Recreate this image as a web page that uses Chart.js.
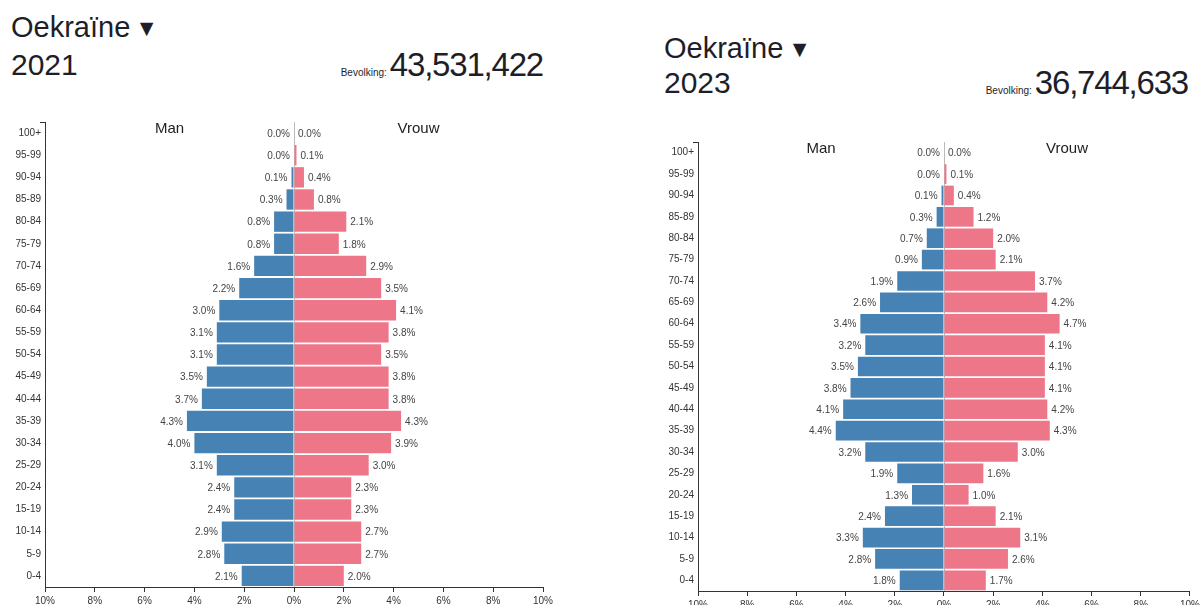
<!DOCTYPE html>
<html>
<head>
<meta charset="utf-8">
<script src="https://cdn.jsdelivr.net/npm/chart.js@4/dist/chart.umd.min.js"></script>
<style>
  html, body { margin: 0; padding: 0; background: #fff; }
  body { width: 1203px; height: 605px; position: relative; overflow: hidden;
         font-family: "Liberation Sans", Arial, sans-serif; color: #1e1e28; }
  .t { position: absolute; white-space: nowrap; line-height: 30px; }
  .country { font-size: 29px; }
  .country .tri { font-size: 23px; vertical-align: 1px; margin-left: 5px; }
  .year { font-size: 30px; }
  .pop { text-align: right; font-size: 33px; letter-spacing: -1.2px; line-height: 33px; }
  .pop small { font-size: 10px; letter-spacing: 0; margin-right: 3px; }
  canvas { position: absolute; }
</style>
</head>
<body>
<div class="t country" style="left:11px; top:12px;">Oekraïne<span class="tri">▼</span></div>
<div class="t year" style="left:11px; top:50px;">2021</div>
<div class="t pop" style="right:660px; top:48px;"><small>Bevolking:</small>43,531,422</div>

<div class="t country" style="left:664px; top:33px;">Oekraïne<span class="tri">▼</span></div>
<div class="t year" style="left:664px; top:68px;">2023</div>
<div class="t pop" style="right:15px; top:66px;"><small>Bevolking:</small>36,744,633</div>

<canvas id="c2021" width="560" height="505" style="left:0px; top:100px;"></canvas>
<canvas id="c2023" width="548" height="485" style="left:655px; top:120px;"></canvas>

<script>
const ageGroups = ["100+","95-99","90-94","85-89","80-84","75-79","70-74","65-69","60-64","55-59","50-54","45-49","40-44","35-39","30-34","25-29","20-24","15-19","10-14","5-9","0-4"];
const man2021   = [0.0,0.0,0.1,0.3,0.8,0.8,1.6,2.2,3.0,3.1,3.1,3.5,3.7,4.3,4.0,3.1,2.4,2.4,2.9,2.8,2.1];
const vrouw2021 = [0.0,0.1,0.4,0.8,2.1,1.8,2.9,3.5,4.1,3.8,3.5,3.8,3.8,4.3,3.9,3.0,2.3,2.3,2.7,2.7,2.0];
const man2023   = [0.0,0.0,0.1,0.3,0.7,0.9,1.9,2.6,3.4,3.2,3.5,3.8,4.1,4.4,3.2,1.9,1.3,2.4,3.3,2.8,1.8];
const vrouw2023 = [0.0,0.1,0.4,1.2,2.0,2.1,3.7,4.2,4.7,4.1,4.1,4.1,4.2,4.3,3.0,1.6,1.0,2.1,3.1,2.6,1.7];
const xTicks = [-10,-8,-6,-4,-2,0,2,4,6,8,10];
const headers = ["Man","Vrouw"];

Chart.defaults.font.family = '"Liberation Sans", Arial, sans-serif';

const pyramidPlugin = {
  id: 'pyramid',
  beforeDatasetsDraw(chart) {
    const {ctx, chartArea, scales} = chart;
    const x0 = Math.round(scales.x.getPixelForValue(0)) + 0.5;
    ctx.save();
    ctx.strokeStyle = '#bbbbbb';
    ctx.lineWidth = 1;
    ctx.beginPath();
    ctx.moveTo(x0, chartArea.top);
    ctx.lineTo(x0, chartArea.bottom);
    ctx.stroke();
    ctx.restore();
  },
  afterDatasetsDraw(chart) {
    const {ctx, chartArea, scales} = chart;
    ctx.save();
    ctx.font = '10px "Liberation Sans", Arial, sans-serif';
    ctx.fillStyle = '#444';
    ctx.textBaseline = 'middle';
    chart.data.datasets.forEach((ds, di) => {
      const meta = chart.getDatasetMeta(di);
      meta.data.forEach((bar, i) => {
        const v = ds.data[i];
        const txt = Math.abs(v).toFixed(1) + '%';
        if (di === 0) {
          ctx.textAlign = 'right';
          ctx.fillText(txt, bar.x - 4, bar.y + 1);
        } else {
          ctx.textAlign = 'left';
          ctx.fillText(txt, bar.x + 4, bar.y + 1);
        }
      });
    });
    ctx.font = '15px "Liberation Sans", Arial, sans-serif';
    ctx.fillStyle = '#222';
    ctx.textAlign = 'center';
    ctx.textBaseline = 'middle';
    ctx.fillText(headers[0], scales.x.getPixelForValue(-5), chartArea.top + 7);
    ctx.fillText(headers[1], scales.x.getPixelForValue(5), chartArea.top + 7);
    ctx.strokeStyle = '#333';
    ctx.lineWidth = 1;
    ctx.beginPath();
    ctx.moveTo(chartArea.left - 5, chartArea.top + 0.5);
    ctx.lineTo(chartArea.left, chartArea.top + 0.5);
    ctx.stroke();
    ctx.restore();
  }
};

function makeChart(id, man, vrouw, yWidth, xHeight, padRight) {
  return new Chart(document.getElementById(id), {
    type: 'bar',
    data: {
      labels: ageGroups,
      datasets: [
        { label: headers[0], data: man.map(v => -v), backgroundColor: '#4682b4',
          barPercentage: 1, categoryPercentage: 0.92 },
        { label: headers[1], data: vrouw, backgroundColor: '#ee7689',
          barPercentage: 1, categoryPercentage: 0.92 }
      ]
    },
    options: {
      indexAxis: 'y',
      responsive: false,
      animation: false,
      devicePixelRatio: 1,
      layout: { padding: { top: 22, right: padRight, left: 0, bottom: 0 } },
      plugins: { legend: { display: false }, tooltip: { enabled: false } },
      scales: {
        x: {
          stacked: true, min: -10, max: 10,
          afterBuildTicks(scale) { scale.ticks = xTicks.map(v => ({ value: v })); },
          afterFit(scale) { scale.height = xHeight; },
          grid: { display: true, drawOnChartArea: false, drawTicks: true, tickLength: 5, color: '#333' },
          border: { display: true, color: '#333', width: 1 },
          ticks: { font: { size: 10 }, color: '#333', padding: 3, maxRotation: 0,
                   callback: v => Math.abs(v) + '%' }
        },
        y: {
          stacked: true,
          afterFit(scale) { scale.width = yWidth; },
          grid: { display: false, drawTicks: false },
          border: { display: true, color: '#333', width: 1 },
          ticks: { font: { size: 10 }, color: '#333', padding: 4, autoSkip: false }
        }
      }
    },
    plugins: [pyramidPlugin]
  });
}

makeChart('c2021', man2021, vrouw2021, 45, 18, 17);
makeChart('c2023', man2023, vrouw2023, 43, 14, 10);
</script>
</body>
</html>
